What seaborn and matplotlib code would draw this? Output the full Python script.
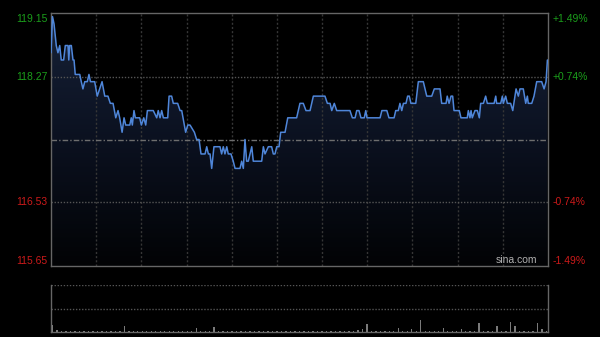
import numpy as np
import pandas as pd
import matplotlib
matplotlib.use("Agg")
import matplotlib.pyplot as plt
from matplotlib.colors import LinearSegmentedColormap
import seaborn as sns

# ---------------- data ----------------
minutes = [0, 1, 2, 3.5, 4.6, 5.8, 6.8, 8.4, 9.5, 11.3, 11.8, 12.4, 13.5, 14.6, 15.3, 16.1,
           19.1, 20.1, 21.2, 22.4, 24.1, 25.2, 26.2, 29.0, 30.7, 32.3, 33.9, 35.7, 37.8, 39.4,
           41.2, 43.0, 44.5, 45.6, 47.2, 48.5, 49.6, 52.3, 53.3, 54.0, 55.1, 56.0, 58.9, 60.0,
           61.6, 62.9, 64.0, 67.9, 70.2, 71.2, 72.4, 73.5, 74.6, 77.5, 78.4, 80.1, 81.2, 84.1,
           85.7, 86.8, 88.5, 89.4, 90.8, 92.3, 95.2, 96.7, 98.3, 99.6, 102.3, 103.4, 104.5,
           105.6, 106.7, 108.2, 112.2, 113.3, 114.4, 115.5, 116.7, 117.7, 119.5, 121.0, 122.2,
           125.5, 126.6, 127.7, 128.8, 129.9, 131.0, 133.3, 134.3, 139.9, 141.0, 142.1, 144.3,
           146.5, 147.6, 148.7, 149.9, 151.4, 152.5, 155.4, 157.2, 163.1, 165.3, 167.5, 169.3,
           172.0, 174.2, 181.9, 183.5, 185.3, 186.4, 188.1, 189.7, 198.5, 200.1, 201.9, 203.0,
           204.5, 205.8, 208.0, 209.0, 209.8, 218.5, 219.7, 223.0, 224.4, 227.8, 228.9, 230.6,
           231.7, 232.9, 234.0, 235.7, 236.8, 237.9, 239.0, 242.2, 243.9, 247.2, 249.5, 252.8,
           254.5, 258.3, 259.4, 262.3, 263.1, 264.3, 265.6, 266.7, 267.6, 271.1, 272.2, 276.4,
           277.1, 278.2, 278.9, 279.7, 281.5, 283.1, 284.4, 285.3, 287.1, 288.6, 289.7, 294.2,
           295.3, 295.9, 298.6, 299.7, 300.3, 301.9, 303.0, 305.2, 306.6, 308.8, 310.3, 311.4,
           313.6, 315.2, 316.3, 316.9, 319.2, 320.7, 322.5, 325.8, 327.4, 328.7, 329.6]
prices = [118.6, 119.1, 119.0, 118.7, 118.6, 118.7, 118.5, 118.5, 118.7, 118.7, 118.5, 118.7,
          118.7, 118.5, 118.5, 118.3, 118.3, 118.2, 118.1, 118.2, 118.2, 118.3, 118.2, 118.2,
          118.0, 118.1, 118.2, 118.0, 118.0, 117.9, 117.9, 117.7, 117.8, 117.7, 117.5, 117.7,
          117.6, 117.6, 117.7, 117.6, 117.8, 117.7, 117.7, 117.6, 117.7, 117.6, 117.8, 117.8,
          117.7, 117.8, 117.7, 117.8, 117.7, 117.7, 118.0, 118.0, 117.9, 117.9, 117.8, 117.8,
          117.6, 117.5, 117.6, 117.6, 117.5, 117.4, 117.4, 117.2, 117.2, 117.3, 117.2, 117.2,
          117.0, 117.3, 117.3, 117.2, 117.3, 117.2, 117.3, 117.2, 117.2, 117.1, 117.0, 117.0,
          117.1, 117.0, 117.4, 117.1, 117.1, 117.3, 117.1, 117.1, 117.3, 117.2, 117.3, 117.3,
          117.2, 117.2, 117.3, 117.3, 117.5, 117.5, 117.7, 117.7, 117.9, 117.9, 117.8, 117.8,
          118.0, 118.0, 117.9, 117.9, 117.8, 117.9, 117.8, 117.8, 117.7, 117.7, 117.8, 117.8,
          117.7, 117.7, 117.8, 117.7, 117.7, 117.8, 117.8, 117.7, 117.7, 117.8, 117.8, 117.9,
          117.8, 117.9, 117.9, 118.0, 118.0, 117.9, 117.9, 118.2, 118.2, 118.0, 118.0, 118.1,
          118.1, 117.9, 117.9, 118.0, 117.9, 118.0, 118.0, 117.8, 117.8, 117.7, 117.7, 117.8,
          117.7, 117.8, 117.7, 117.8, 117.8, 117.7, 117.9, 117.9, 118.0, 117.9, 117.9, 118.0,
          117.9, 117.9, 118.0, 117.9, 118.0, 117.9, 117.9, 117.8, 118.1, 118.0, 118.1, 118.1,
          117.9, 118.0, 117.9, 117.9, 118.0, 118.2, 118.2, 118.1, 118.2, 118.5]
prev_close = 117.40
tick_values = [115.65, 116.53, 117.40, 118.27, 119.15]
left_labels = ["115.65", "116.53", "", "118.27", "119.15"]
right_labels = ["-1.49%", "-0.74%", "", "+0.74%", "+1.49%"]
vol_minutes = list(range(0, 331, 3))
vol_values = [15, 5, 2, 3, 2, 3, 2, 2, 3, 2, 2, 3, 2, 2, 3, 2, 13, 2, 2, 3,
              2, 2, 2, 3, 2, 2, 3, 2, 2, 3, 2, 2, 8, 2, 3, 2, 10, 2, 2, 3,
              2, 2, 2, 3, 2, 2, 2, 3, 2, 2, 2, 2, 3, 2, 2, 3, 2, 2, 2, 2,
              3, 2, 2, 2, 3, 2, 2, 3, 4, 6, 17, 3, 2, 2, 2, 3, 2, 8, 2, 3,
              6, 2, 25, 2, 2, 2, 3, 8, 2, 2, 3, 6, 2, 2, 2, 20, 2, 2, 3, 13,
              2, 2, 22, 13, 2, 2, 3, 2, 20, 6, 3]

# ---------------- style ----------------
sns.set_theme(style="dark")
plt.rcParams['font.family'] = ['Liberation Sans', 'DejaVu Sans']

W, H = 600, 337
fig = plt.figure(figsize=(W / 100, H / 100), dpi=100, facecolor='black')

GREEN = '#1b9e1b'
RED = '#cc1a1a'
GRID = '#363636'
SPINE = '#666666'

# ---------------- price panel ----------------
ax = fig.add_axes([51 / W, 1 - 266 / H, 497 / W, 253 / H])
ax.set_facecolor('black')
ymin, ymax = tick_values[0], tick_values[-1]
ax.set_xlim(0, 330)
ax.set_ylim(ymin, ymax)

df = pd.DataFrame({'minute': minutes, 'price': prices})

# gradient fill beneath line
poly = ax.fill_between(df['minute'], df['price'], ymin, facecolor='none', edgecolor='none')
cmap = LinearSegmentedColormap.from_list('fill', ['#020305', '#0b1120', '#172238'])
grad = np.linspace(0, 1, 256).reshape(-1, 1)
im = ax.imshow(grad, extent=[0, 330, ymin, ymax], aspect='auto', cmap=cmap,
               origin='lower', zorder=1)
im.set_clip_path(poly.get_paths()[0], transform=ax.transData)

# grid
for m in range(30, 330, 30):
    ax.axvline(m, color=GRID, lw=1, ls=(0, (1.5, 1.5)), zorder=2)
for v in tick_values[1:-1]:
    if v == prev_close:
        ax.axhline(v, color='#6e6e6e', lw=1, ls=(0, (4, 1.5, 1, 1.5)), zorder=2)
    else:
        ax.axhline(v, color='#555555', lw=1, ls=(0, (1, 1.2)), zorder=2)

sns.lineplot(data=df, x='minute', y='price', ax=ax, color='#4f86d9', lw=1.1, zorder=5)

ax.set_xticks([])
ax.set_yticks([])
ax.set_xlabel('')
ax.set_ylabel('')
for s in ax.spines.values():
    s.set_visible(True)
    s.set_color(SPINE)
    s.set_linewidth(1)

ytrans = ax.get_yaxis_transform()
for v, ll, rl in zip(tick_values, left_labels, right_labels):
    if not ll:
        continue
    col = GREEN if v > prev_close else RED
    if v == ymax:
        va, dy = 'top', -1
    elif v == ymin:
        va, dy = 'bottom', 0
    else:
        va, dy = 'center', 0
    ax.annotate(ll, xy=(0, v), xycoords=ytrans, xytext=(-2.5, dy), textcoords='offset points',
                ha='right', va=va, color=col, fontsize=7.5)
    ax.annotate(rl, xy=(1, v), xycoords=ytrans, xytext=(3.5, dy), textcoords='offset points',
                ha='left', va=va, color=col, fontsize=7.5)

ax.text(0.978, 0.005, 'sina.com', transform=ax.transAxes, ha='right', va='bottom',
        color='#b0b0b0', fontsize=7.5, zorder=6)

# ---------------- volume panel ----------------
vax = fig.add_axes([51 / W, 1 - 332 / H, 497 / W, 47 / H])
vax.set_facecolor('black')
sns.barplot(x=vol_minutes, y=vol_values, native_scale=True, ax=vax, color='#7a7a7a',
            width=0.3, saturation=1, errorbar=None, linewidth=0, edgecolor='none', zorder=3)
vax.set_xlim(-1, 331)
vax.set_ylim(0, 100)
vax.axhline(100, color='#555555', lw=1, ls=(0, (1, 1.2)), zorder=2)
vax.axhline(50, color='#555555', lw=1, ls=(0, (1, 1.2)), zorder=2)
vax.set_xticks([])
vax.set_yticks([])
vax.set_xlabel('')
vax.set_ylabel('')
for side in ['left', 'right', 'bottom']:
    vax.spines[side].set_visible(True)
    vax.spines[side].set_color(SPINE)
    vax.spines[side].set_linewidth(1)
vax.spines['top'].set_visible(False)

fig.savefig('out.png', dpi=100, facecolor='black')
